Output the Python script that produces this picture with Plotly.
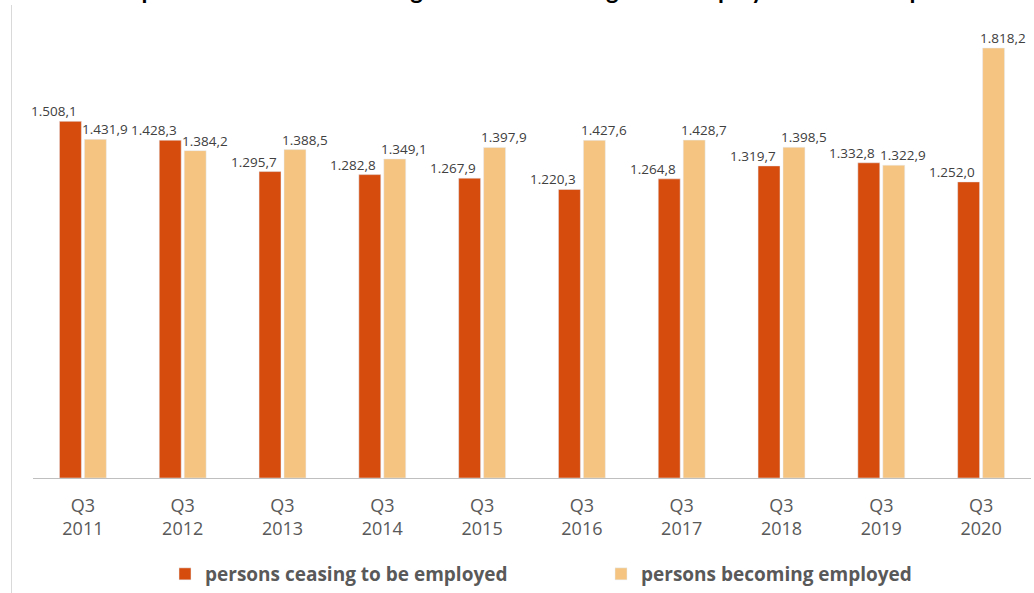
import plotly.graph_objects as go

categories = ["Q3<br>2011", "Q3<br>2012", "Q3<br>2013", "Q3<br>2014", "Q3<br>2015",
              "Q3<br>2016", "Q3<br>2017", "Q3<br>2018", "Q3<br>2019", "Q3<br>2020"]
ceasing = [1508.1, 1428.3, 1295.7, 1282.8, 1267.9, 1220.3, 1264.8, 1319.7, 1332.8, 1252.0]
becoming = [1431.9, 1384.2, 1388.5, 1349.1, 1397.9, 1427.6, 1428.7, 1398.5, 1322.9, 1818.2]
series_names = ["persons ceasing to be employed", "persons becoming employed"]
title_text = "Comparison of those becoming and those ceasing to be employed within the period 2011-2020"

DARK = "#D54C0D"
LIGHT = "#F5C480"

# plot-area geometry (pixels)
L, R, T, B = 33, 3, 5, 115
PW = 1034 - L - R
PH = 593 - T - B

fig = go.Figure()
fig.add_trace(go.Bar(x=categories, y=ceasing, name=series_names[0], marker_color=DARK,
                     legend="legend"))
fig.add_trace(go.Bar(x=categories, y=becoming, name=series_names[1], marker_color=LIGHT,
                     legend="legend2"))

def fmt(v):
    s = f"{v:,.1f}"
    return s.replace(",", "X").replace(".", ",").replace("X", ".")

lab_font = dict(family="Open Sans", size=13.5, color="#404040")
annotations = []
for c, v in zip(categories, ceasing):
    annotations.append(dict(x=c, y=v, xref="x", yref="y", text=fmt(v), showarrow=False,
                            xanchor="right", yanchor="bottom", xshift=-4, yshift=-1,
                            font=lab_font))
for c, v in zip(categories, becoming):
    annotations.append(dict(x=c, y=v, xref="x", yref="y", text=fmt(v), showarrow=False,
                            xanchor="left", yanchor="bottom", xshift=-3, yshift=-1,
                            font=lab_font))
annotations.append(dict(x=(90 - L) / PW, y=1, xref="paper", yref="paper",
                        text="<b>" + title_text + "</b>",
                        showarrow=False, xanchor="left", yanchor="bottom", yshift=-1,
                        font=dict(family="Lato", size=24, color="#000000")))

leg_font = dict(family="Open Sans", size=19, color="#595959", weight="bold")

fig.update_layout(
    width=1034, height=593,
    margin=dict(l=L, r=R, t=T, b=B),
    paper_bgcolor="white", plot_bgcolor="white",
    barmode="group", bargap=0.5, bargroupgap=0.12,
    showlegend=True,
    legend=dict(orientation="h", x=165 / 1034, xref="container", xanchor="left",
                y=-0.022, yref="container", yanchor="bottom",
                font=leg_font, itemclick=False),
    legend2=dict(orientation="h", x=601 / 1034, xref="container", xanchor="left",
                 y=-0.022, yref="container", yanchor="bottom",
                 font=leg_font, itemclick=False),
    annotations=annotations,
    xaxis=dict(showline=True, linecolor="#BFBFBF", linewidth=1, ticks="outside", ticklen=11,
               tickcolor="rgba(0,0,0,0)", range=[-0.5, 9.5], automargin=False,
               tickfont=dict(family="Open Sans", size=18, color="#595959"), showgrid=False),
    yaxis=dict(range=[0, 2000], visible=False, showgrid=False, automargin=False),
    shapes=[dict(type="line", xref="paper", yref="paper", x0=(11.5 - L) / PW, x1=(11.5 - L) / PW,
                 y0=(478 - 593) / PH, y1=(478 - 5) / PH, line=dict(color="#D9D9D9", width=1))],
)

fig.write_html("out.html")
